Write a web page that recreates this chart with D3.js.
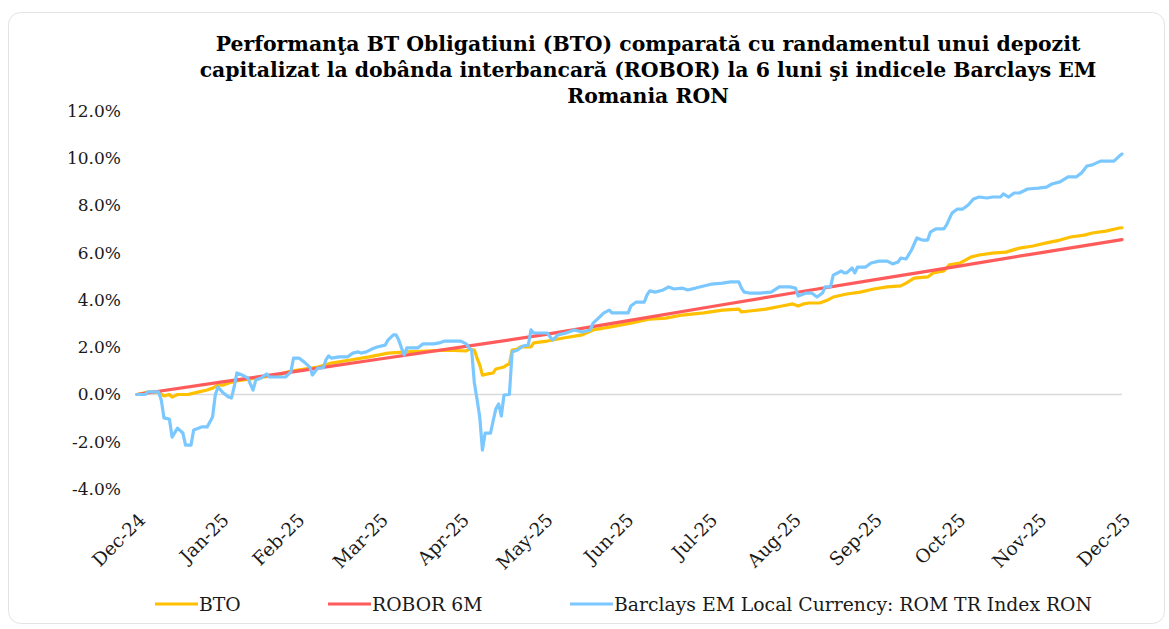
<!DOCTYPE html>
<html>
<head>
<meta charset="utf-8">
<script src="https://cdn.jsdelivr.net/npm/d3@7"></script>
<style>
  html, body { margin: 0; padding: 0; background: #ffffff; }
  svg { display: block; }
</style>
</head>
<body>
<svg id="chart" width="1169" height="629"></svg>
<script>
// ---------------- DATA ----------------
const titleLines = [
  "Performanţa BT Obligatiuni (BTO) comparată cu randamentul unui depozit",
  "capitalizat la dobânda interbancară (ROBOR) la 6 luni şi indicele Barclays EM",
  "Romania RON"
];
const seriesNames = ["BTO", "ROBOR 6M", "Barclays EM Local Currency: ROM TR Index RON"];
const xTickDates = ["2024-12-31","2025-01-31","2025-02-28","2025-03-31","2025-04-30","2025-05-31",
  "2025-06-30","2025-07-31","2025-08-31","2025-09-30","2025-10-31","2025-11-30","2025-12-31"];
const yTickValues = [-4, -2, 0, 2, 4, 6, 8, 10, 12];

const btoSeries = [
  ["2024-12-31",0],["2025-01-04",0.10],["2025-01-08",0.11],["2025-01-09",0.02],["2025-01-10",-0.06],
  ["2025-01-12",0.00],["2025-01-13",-0.11],["2025-01-15",0.00],["2025-01-19",0.00],["2025-01-21",0.06],
  ["2025-01-23",0.11],["2025-01-26",0.19],["2025-01-28",0.27],["2025-01-30",0.40],["2025-02-01",0.40],
  ["2025-02-03",0.49],["2025-02-06",0.57],["2025-02-11",0.66],["2025-02-16",0.74],["2025-02-21",0.82],
  ["2025-02-26",0.99],["2025-03-03",1.08],["2025-03-08",1.16],["2025-03-13",1.33],["2025-03-20",1.46],
  ["2025-03-27",1.59],["2025-04-03",1.75],["2025-04-10",1.80],["2025-04-17",1.84],["2025-04-25",1.88],
  ["2025-05-02",1.84],["2025-05-03",1.92],["2025-05-05",1.88],["2025-05-06",1.54],["2025-05-07",1.25],
  ["2025-05-08",0.82],["2025-05-10",0.87],["2025-05-12",0.91],["2025-05-13",1.08],["2025-05-16",1.16],
  ["2025-05-17",1.25],["2025-05-18",1.29],["2025-05-19",1.88],["2025-05-21",1.92],["2025-05-22",2.01],
  ["2025-05-26",2.01],["2025-05-27",2.18],["2025-06-01",2.26],["2025-06-07",2.39],["2025-06-14",2.52],
  ["2025-06-18",2.73],["2025-06-24",2.85],["2025-07-02",3.02],["2025-07-09",3.19],["2025-07-15",3.23],
  ["2025-07-21",3.36],["2025-07-29",3.45],["2025-08-05",3.57],["2025-08-11",3.61],["2025-08-12",3.49],
  ["2025-08-15",3.53],["2025-08-21",3.61],["2025-08-27",3.74],["2025-08-31",3.83],["2025-09-02",3.74],
  ["2025-09-04",3.83],["2025-09-06",3.87],["2025-09-10",3.87],["2025-09-13",4.00],["2025-09-15",4.12],
  ["2025-09-20",4.25],["2025-09-25",4.33],["2025-09-30",4.46],["2025-10-05",4.55],["2025-10-10",4.59],
  ["2025-10-12",4.71],["2025-10-15",4.92],["2025-10-20",4.97],["2025-10-22",5.14],["2025-10-26",5.22],
  ["2025-10-28",5.48],["2025-11-01",5.56],["2025-11-05",5.81],["2025-11-08",5.90],["2025-11-13",5.98],
  ["2025-11-18",6.02],["2025-11-23",6.19],["2025-11-28",6.28],["2025-12-03",6.41],["2025-12-08",6.53],
  ["2025-12-12",6.66],["2025-12-17",6.74],["2025-12-20",6.83],["2025-12-25",6.91],["2025-12-30",7.04],
  ["2025-12-31",7.05]
];

const roborSeries = [
  ["2024-12-31",0],["2025-01-31",0.52],["2025-02-28",0.98],["2025-03-31",1.50],["2025-04-30",2.00],
  ["2025-05-31",2.53],["2025-06-30",3.10],["2025-07-31",3.70],["2025-08-31",4.29],["2025-09-30",4.85],
  ["2025-10-31",5.42],["2025-11-30",5.98],["2025-12-31",6.55]
];

const barclaysSeries = [
  ["2024-12-31",0],["2025-01-03",0],["2025-01-04",0.11],["2025-01-08",0.11],["2025-01-09",-0.23],
  ["2025-01-10",-0.99],["2025-01-12",-1.04],["2025-01-13",-1.80],["2025-01-15",-1.42],["2025-01-17",-1.63],
  ["2025-01-18",-2.14],["2025-01-20",-2.14],["2025-01-21",-1.50],["2025-01-23",-1.42],["2025-01-24",-1.37],
  ["2025-01-26",-1.37],["2025-01-28",-0.95],["2025-01-29",-0.02],["2025-01-30",0.32],["2025-02-01",0.06],
  ["2025-02-03",-0.11],["2025-02-04",-0.15],["2025-02-05",0.32],["2025-02-06",0.91],["2025-02-08",0.82],
  ["2025-02-10",0.70],["2025-02-12",0.19],["2025-02-13",0.61],["2025-02-15",0.70],["2025-02-17",0.87],
  ["2025-02-18",0.74],["2025-02-24",0.74],["2025-02-26",0.95],["2025-02-27",1.54],["2025-03-01",1.54],
  ["2025-03-03",1.37],["2025-03-05",1.16],["2025-03-06",0.82],["2025-03-08",1.12],["2025-03-10",1.12],
  ["2025-03-11",1.46],["2025-03-12",1.63],["2025-03-13",1.54],["2025-03-16",1.59],["2025-03-19",1.59],
  ["2025-03-21",1.75],["2025-03-23",1.80],["2025-03-24",1.75],["2025-03-26",1.80],["2025-03-28",1.92],
  ["2025-03-30",2.01],["2025-04-02",2.09],["2025-04-03",2.30],["2025-04-05",2.52],["2025-04-06",2.52],
  ["2025-04-07",2.30],["2025-04-08",1.97],["2025-04-09",1.67],["2025-04-10",1.97],["2025-04-14",1.97],
  ["2025-04-16",2.14],["2025-04-20",2.14],["2025-04-22",2.18],["2025-04-24",2.26],["2025-04-30",2.26],
  ["2025-05-02",2.14],["2025-05-03",1.97],["2025-05-04",1.88],["2025-05-05",0.50],["2025-05-06",-0.20],
  ["2025-05-07",-0.95],["2025-05-08",-2.35],["2025-05-09",-1.63],["2025-05-11",-1.63],["2025-05-12",-1.10],
  ["2025-05-13",-0.60],["2025-05-14",-0.40],["2025-05-15",-0.91],["2025-05-16",-0.02],["2025-05-18",0.00],
  ["2025-05-19",1.80],["2025-05-21",1.88],["2025-05-23",2.05],["2025-05-25",2.09],["2025-05-26",2.73],
  ["2025-05-27",2.60],["2025-05-30",2.60],["2025-06-01",2.60],["2025-06-03",2.30],["2025-06-05",2.52],
  ["2025-06-08",2.60],["2025-06-11",2.73],["2025-06-14",2.64],["2025-06-17",2.73],["2025-06-18",3.02],
  ["2025-06-20",3.23],["2025-06-22",3.45],["2025-06-24",3.57],["2025-06-25",3.45],["2025-06-28",3.45],
  ["2025-07-01",3.45],["2025-07-02",3.74],["2025-07-04",3.91],["2025-07-07",3.91],["2025-07-08",4.21],
  ["2025-07-09",4.38],["2025-07-11",4.33],["2025-07-14",4.42],["2025-07-16",4.55],["2025-07-18",4.46],
  ["2025-07-21",4.50],["2025-07-23",4.42],["2025-07-26",4.50],["2025-07-29",4.59],["2025-08-01",4.67],
  ["2025-08-05",4.71],["2025-08-08",4.76],["2025-08-11",4.76],["2025-08-12",4.50],["2025-08-13",4.33],
  ["2025-08-15",4.29],["2025-08-19",4.29],["2025-08-23",4.33],["2025-08-26",4.55],["2025-08-30",4.55],
  ["2025-09-01",4.50],["2025-09-02",4.16],["2025-09-04",4.25],["2025-09-05",4.29],["2025-09-07",4.29],
  ["2025-09-09",4.12],["2025-09-11",4.29],["2025-09-12",4.55],["2025-09-14",4.55],["2025-09-15",5.05],
  ["2025-09-18",5.22],["2025-09-19",5.14],["2025-09-20",5.14],["2025-09-22",5.35],["2025-09-23",5.14],
  ["2025-09-24",5.39],["2025-09-27",5.39],["2025-09-29",5.56],["2025-10-02",5.64],["2025-10-05",5.64],
  ["2025-10-07",5.52],["2025-10-09",5.60],["2025-10-10",5.77],["2025-10-12",5.73],["2025-10-14",6.11],
  ["2025-10-16",6.62],["2025-10-18",6.53],["2025-10-20",6.53],["2025-10-21",6.87],["2025-10-23",7.00],
  ["2025-10-26",7.00],["2025-10-27",7.17],["2025-10-29",7.67],["2025-10-31",7.84],["2025-11-02",7.84],
  ["2025-11-04",8.01],["2025-11-06",8.27],["2025-11-08",8.35],["2025-11-11",8.31],["2025-11-13",8.35],
  ["2025-11-16",8.35],["2025-11-17",8.48],["2025-11-19",8.35],["2025-11-21",8.52],["2025-11-23",8.52],
  ["2025-11-26",8.69],["2025-11-30",8.73],["2025-12-03",8.77],["2025-12-05",8.90],["2025-12-08",8.99],
  ["2025-12-11",9.20],["2025-12-14",9.20],["2025-12-16",9.37],["2025-12-18",9.66],["2025-12-20",9.71],
  ["2025-12-23",9.87],["2025-12-26",9.87],["2025-12-28",9.87],["2025-12-30",10.08],["2025-12-31",10.17]
];

// ---------------- CHART ----------------
const colors = ["#FFC000", "#FF5B5B", "#7AC8FF"];
const FONT = "'DejaVu Serif', 'Liberation Serif', serif";
const parse = d3.timeParse("%Y-%m-%d");
const svg = d3.select("#chart");

// card
svg.append("rect")
  .attr("x", 8.5).attr("y", 12.5).attr("width", 1156).attr("height", 611)
  .attr("rx", 12).attr("fill", "#ffffff").attr("stroke", "#e3e3e3").attr("stroke-width", 1);

const plot = { left: 137, right: 1122, top: 110.7, bottom: 489.1 };
const x = d3.scaleTime()
  .domain([parse(xTickDates[0]), parse(xTickDates[xTickDates.length - 1])])
  .range([plot.left, plot.right]);
const y = d3.scaleLinear().domain([-4, 12]).range([plot.bottom, plot.top]);

// title
const title = svg.append("text")
  .attr("x", 648).attr("y", 51)
  .attr("text-anchor", "middle")
  .attr("font-family", FONT).attr("font-weight", "bold").attr("font-size", 20.4)
  .attr("fill", "#000");
titleLines.forEach((t, i) => {
  title.append("tspan").attr("x", 648).attr("dy", i === 0 ? 0 : 26).text(t);
});

// y axis
const yAxis = d3.axisLeft(y).tickValues(yTickValues).tickSize(0).tickPadding(16)
  .tickFormat(d => d.toFixed(1) + "%");
const yg = svg.append("g").attr("transform", `translate(${plot.left},0)`).call(yAxis);
yg.select(".domain").remove();
yg.selectAll("text").attr("font-family", FONT).attr("font-size", 17).attr("fill", "#1a1a1a");

// zero line
svg.append("line")
  .attr("x1", plot.left).attr("x2", plot.right)
  .attr("y1", y(0)).attr("y2", y(0))
  .attr("stroke", "#d9d9d9").attr("stroke-width", 1.6);

// x axis labels
const xAxis = d3.axisBottom(x).tickValues(xTickDates.map(parse)).tickSize(0).tickPadding(0)
  .tickFormat(d3.timeFormat("%b-%y"));
const xg = svg.append("g").attr("transform", `translate(0,${plot.bottom})`).call(xAxis);
xg.select(".domain").remove();
xg.selectAll("text")
  .attr("font-family", FONT).attr("font-size", 18.5).attr("fill", "#1a1a1a")
  .attr("text-anchor", "end")
  .attr("dy", null).attr("y", null)
  .attr("transform", "translate(9,32) rotate(-45)");

// lines
const line = d3.line().x(d => x(parse(d[0]))).y(d => y(d[1])).curve(d3.curveLinear);
[btoSeries, roborSeries, barclaysSeries].forEach((s, i) => {
  svg.append("path")
    .attr("d", line(s))
    .attr("fill", "none")
    .attr("stroke", colors[i])
    .attr("stroke-width", 3.2)
    .attr("stroke-linejoin", "round")
    .attr("stroke-linecap", "round");
});

// legend
const legendX = [155, 328, 570];
const legend = svg.append("g");
seriesNames.forEach((name, i) => {
  legend.append("line")
    .attr("x1", legendX[i]).attr("x2", legendX[i] + 43)
    .attr("y1", 604).attr("y2", 604)
    .attr("stroke", colors[i]).attr("stroke-width", 3);
  legend.append("text")
    .attr("x", legendX[i] + 44).attr("y", 610.5)
    .attr("font-family", FONT).attr("font-size", 18.8).attr("fill", "#1a1a1a")
    .text(name);
});
</script>
</body>
</html>
